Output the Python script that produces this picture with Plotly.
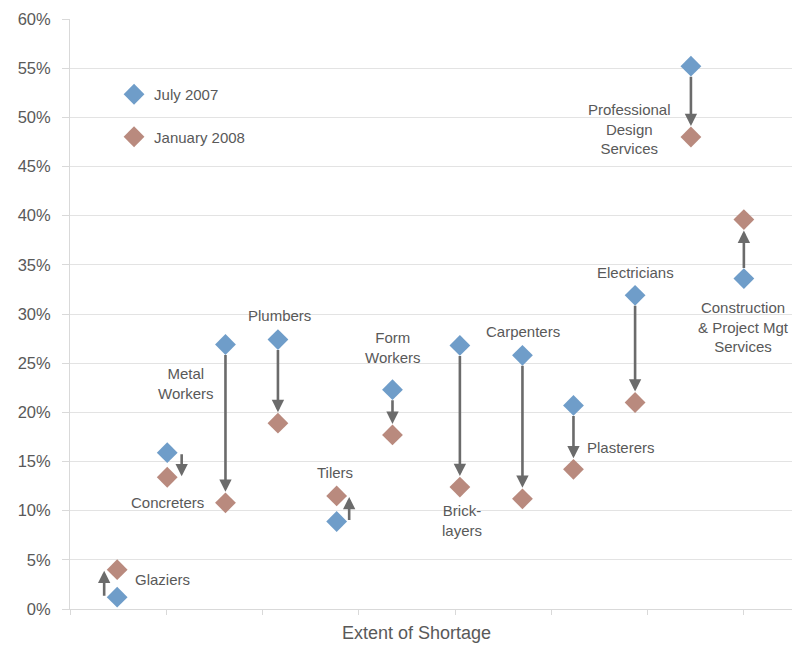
import plotly.graph_objects as go

# Skill shortages by occupation, July 2007 vs January 2008 (% of employers reporting)
occupations = [
    "Glaziers", "Concreters", "Metal Workers", "Plumbers", "Tilers", "Form Workers",
    "Bricklayers", "Carpenters", "Plasterers", "Electricians",
    "Professional Design Services", "Construction & Project Mgt Services",
]
label_text = [
    "Glaziers", "Concreters", "Metal<br>Workers", "Plumbers", "Tilers", "Form<br>Workers",
    "Brick-<br>layers", "Carpenters", "Plasterers", "Electricians",
    "Professional<br>Design<br>Services", "Construction<br>& Project Mgt<br>Services",
]
shortage_extent = [0.49, 1.01, 1.615, 2.16, 2.77, 3.35, 4.05, 4.70, 5.23, 5.87, 6.45, 7.0]
july_2007 = [1.2, 15.9, 26.9, 27.4, 8.9, 22.3, 26.8, 25.8, 20.7, 31.9, 55.2, 33.6]
jan_2008 = [4.0, 13.4, 10.8, 18.9, 11.5, 17.7, 12.4, 11.2, 14.2, 21.0, 48.0, 39.6]
y_ticks = list(range(0, 61, 5))
y_tick_labels = [f"{v}%" for v in y_ticks]
x_ticks = list(range(0, 8))

BLUE = "#6f9dc9"
BROWN = "#b98a7e"
ARROW = "#6b6b6b"
TEXT = "#595959"
LINE = "#d9d9d9"
GRID = "#e3e3e3"
FONT = "Liberation Sans, Arial, sans-serif"

# arrows that sit beside the pair of markers instead of between them (x-axis units)
arrow_side = {"Glaziers": -0.135, "Concreters": 0.15, "Tilers": 0.13}

# label placement: which marker it hangs off, anchor, pixel shifts
label_place = {
    "Glaziers": ("jan", "left", 16, -10),
    "Concreters": ("jan", "center", 0, -25),
    "Metal Workers": ("jul", "center", -39, -39),
    "Plumbers": ("jul", "center", 2, 24),
    "Tilers": ("jan", "center", -2, 23),
    "Form Workers": ("jul", "center", 1, 42),
    "Bricklayers": ("jan", "center", 2, -33),
    "Carpenters": ("jul", "center", 1, 24),
    "Plasterers": ("jan", "left", 12, 22),
    "Electricians": ("jul", "center", 0, 23),
    "Professional Design Services": ("jan", "center", -61, 8),
    "Construction & Project Mgt Services": ("jul", "center", 0, -48),
}

fig = go.Figure()
fig.add_trace(go.Scatter(
    x=shortage_extent, y=july_2007, mode="markers", name="July 2007",
    legendgroup="jul",
    marker=dict(symbol="diamond", size=16, color=BLUE, line=dict(width=0)),
    hovertext=occupations,
))
fig.add_trace(go.Scatter(
    x=shortage_extent, y=jan_2008, mode="markers", name="January 2008",
    legendgroup="jan",
    marker=dict(symbol="diamond", size=16, color=BROWN, line=dict(width=0)),
    hovertext=occupations,
))

annotations = []
for name, x, y0, y1 in zip(occupations, shortage_extent, july_2007, jan_2008):
    side = name in arrow_side
    ax_x = x + arrow_side.get(name, 0.0)
    annotations.append(dict(
        x=ax_x, y=y1, ax=ax_x, ay=y0, xref="x", yref="y", axref="x", ayref="y",
        text="", showarrow=True, arrowhead=2, arrowsize=0.95, arrowwidth=2.6,
        arrowcolor=ARROW,
        standoff=1 if side else 11,
        startstandoff=0 if side else 9,
    ))

for name, text, x, y0, y1 in zip(occupations, label_text, shortage_extent, july_2007, jan_2008):
    which, anchor, dx, dy = label_place[name]
    annotations.append(dict(
        x=x, y=y0 if which == "jul" else y1, xref="x", yref="y",
        text=text, showarrow=False, xanchor=anchor, yanchor="middle",
        xshift=dx, yshift=dy, align="center",
        font=dict(family=FONT, size=15, color=TEXT),
    ))

# horizontal axis caption
annotations.append(dict(
    x=0.48, y=-0.041, xref="paper", yref="paper", text="Extent of Shortage",
    showarrow=False, xanchor="center", yanchor="middle",
    font=dict(family=FONT, size=18, color=TEXT),
))

fig.update_layout(
    width=806, height=646,
    margin=dict(l=70, r=14, t=19, b=37, autoexpand=False),
    paper_bgcolor="white", plot_bgcolor="white",
    font=dict(family=FONT, size=15, color=TEXT),
    showlegend=True,
    legend=dict(
        x=0.061, y=0.9, xanchor="left", yanchor="top",
        traceorder="grouped", tracegroupgap=20,
        font=dict(family=FONT, size=15, color=TEXT),
        bgcolor="rgba(0,0,0,0)",
    ),
    annotations=annotations,
    xaxis=dict(
        range=[0, 7.5], tickvals=x_ticks, showticklabels=False,
        ticks="outside", ticklen=5, tickcolor=LINE, tickwidth=1,
        showline=True, linecolor=LINE, linewidth=1,
        showgrid=False, zeroline=False, automargin=False,
    ),
    yaxis=dict(
        range=[0, 60], tickvals=y_ticks, ticktext=y_tick_labels,
        ticks="outside", ticklen=7, tickcolor=LINE, tickwidth=1,
        ticklabelstandoff=8,
        showline=True, linecolor=LINE, linewidth=1,
        showgrid=True, gridcolor=GRID, gridwidth=1,
        zeroline=False, automargin=False,
        tickfont=dict(family=FONT, size=16.5, color=TEXT),
    ),
)

fig.write_html("out.html")
